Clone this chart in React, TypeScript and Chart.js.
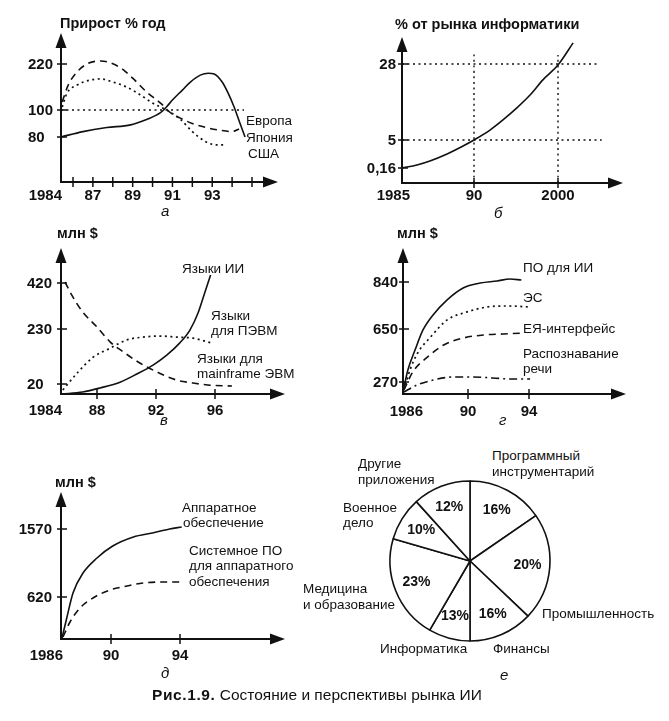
import React, { useEffect, useRef } from 'react';
import { Chart, registerables, LinearScale } from 'chart.js';

const FONT = '"Liberation Sans", Arial, Helvetica, sans-serif';
const INK = '#111';

// ---------- Panel а: Прирост % год ----------
const aEuropeX = [1984.2, 1985.2, 1986.2, 1986.7, 1987.4, 1988.4, 1989, 1989.7, 1990.4, 1990.9, 1991.4, 1992, 1992.7, 1993.4, 1994, 1994.35];
const aEuropeY = [121, 165, 199, 220, 228, 210, 183, 147, 118, 98, 94, 90, 87, 85, 84, 86];
const aJapanX = [1984, 1986.5, 1987.7, 1988.9, 1989.7, 1990.4, 1990.7, 1991, 1991.5, 1991.9, 1992.4, 1992.8, 1993.1, 1993.5, 1993.8, 1994.1, 1994.4, 1994.65];
const aJapanY = [80, 84, 87, 89, 93, 98, 108, 126, 152, 173, 191, 196, 194, 173, 144, 108, 90, 80];
const aUsaX = [1984.2, 1985, 1986.2, 1986.85, 1987.4, 1988, 1988.7, 1989.4, 1990, 1990.7, 1991.4, 1992, 1992.7, 1993.2, 1993.6];
const aUsaY = [108, 144, 165, 178, 181, 173, 160, 139, 118, 100, 93, 84, 71, 66, 66];
const aRefX = [1984, 1994.6];
const aRefY = [100, 100];
const aXTicks = [1984, 1986, 1987, 1988, 1989, 1990, 1991, 1992, 1993, 1994, 1995];
const aXLabels = ['1984', '', '87', '', '89', '', '91', '', '93', '', ''];
const aYTicks = [80, 100, 220];
const aYLabels = ['80', '100', '220'];

// ---------- Panel б: % от рынка информатики ----------
const bShareX = [1985, 1986.04, 1986.94, 1988.13, 1989.24, 1990, 1991.9, 1993.45, 1995.1, 1996.67, 1998.2, 2000, 2001.8];
const bShareY = [0.16, 0.68, 1.37, 2.58, 3.96, 5, 8.0, 11.06, 14.7, 18.6, 23.2, 27.7, 34.4];
const bGrid5X = [1985, 2005.2];
const bGrid5Y = [5, 5];
const bGrid28X = [1985, 2004.6];
const bGrid28Y = [28, 28];
const bGrid90X = [1990, 1990];
const bGrid90Y = [0, 31.3];
const bGrid2000X = [2000, 2000];
const bGrid2000Y = [0, 30.7];
const bXTicks = [1985, 1990, 2000];
const bXLabels = ['1985', '90', '2000'];
const bYTicks = [0.16, 5, 28];
const bYLabels = ['0,16', '5', '28'];

// ---------- Panel в: языки, млн $ ----------
const cAiX = [1984.1, 1986.4, 1988.2, 1989.6, 1990.7, 1991.8, 1992.75, 1993.6, 1994.3, 1994.85, 1995.3, 1995.7];
const cAiY = [0, 4, 12, 28, 58, 92, 131, 176, 226, 296, 379, 453];
const cPcX = [1984.2, 1985.8, 1987.6, 1988.9, 1990, 1991.1, 1992.3, 1993.4, 1994.5, 1995.8];
const cPcY = [8, 62, 123, 157, 188, 199, 203, 199, 195, 176];
const cMainframeX = [1984.44, 1985.2, 1986.4, 1988, 1988.9, 1989.8, 1990.9, 1992.07, 1993.4, 1994.5, 1995.5, 1997.15];
const cMainframeY = [424, 370, 301, 238, 180, 142, 100, 66, 35, 24, 18, 16];
const cXTicks = [1984, 1988, 1992, 1996];
const cXLabels = ['1984', '88', '92', '96'];
const cYTicks = [20, 230, 420];
const cYLabels = ['20', '230', '420'];

// ---------- Panel г: ПО для ИИ, млн $ ----------
const dSoftX = [1986, 1986.3, 1986.74, 1987.23, 1987.85, 1988.7, 1989.7, 1990.8, 1991.9, 1992.75, 1993.5];
const dSoftY = [45, 356, 499, 643, 707, 767, 816, 836, 844, 852, 848];
const dEsX = [1986.06, 1986.43, 1986.9, 1987.7, 1988.7, 1989.94, 1991.25, 1992.56, 1994.07];
const dEsY = [90, 356, 478, 593, 686, 719, 739, 743, 739];
const dNlX = [1986.06, 1986.6, 1987.5, 1988.5, 1989.7, 1991, 1992.3, 1993.6];
const dNlY = [90, 342, 449, 535, 585, 607, 614, 621];
const dSpeechX = [1986.06, 1986.86, 1987.85, 1989.1, 1990.3, 1991.6, 1992.95, 1994.07];
const dSpeechY = [45, 202, 284, 306, 306, 299, 291, 291];
const dXTicks = [1986, 1990, 1994];
const dXLabels = ['1986', '90', '94'];
const dYTicks = [270, 650, 840];
const dYLabels = ['270', '650', '840'];

// ---------- Panel д: аппаратное обеспечение, млн $ ----------
const eHwX = [1986.08, 1986.48, 1986.96, 1987.76, 1988.88, 1990.1, 1991.3, 1992.4, 1993.4, 1994.1];
const eHwY = [15, 325, 676, 955, 1165, 1332, 1458, 1514, 1570, 1598];
const eSysX = [1986.16, 1986.72, 1987.52, 1988.56, 1989.92, 1990.93, 1991.86, 1993.0, 1994.1];
const eSysY = [30, 251, 458, 605, 718, 774, 816, 830, 830];
const eXTicks = [1986, 1990, 1994];
const eXLabels = ['1986', '90', '94'];
const eYTicks = [620, 1570];
const eYLabels = ['620', '1570'];

// ---------- Panel е: pie ----------
const pieCategories = ['Программный инструментарий', 'Промышленность', 'Финансы', 'Информатика', 'Медицина и образование', 'Военное дело', 'Другие приложения'];
const pieShares = [15.4, 21.7, 12.9, 8.4, 21.1, 8.8, 11.7];
const piePctLabels = ['16%', '20%', '16%', '13%', '23%', '10%', '12%'];

// ---------- scale: piecewise-linear (schematic axes) ----------
class KnotScale extends LinearScale {
  static id = 'knot';
  static defaults = {};
  knots(): number[][] {
    return (this.options as any).knots as number[][];
  }
  getPixelForValue(v: number) {
    const k = this.knots();
    let i = 0;
    while (i < k.length - 2 && v > k[i + 1][0]) i++;
    const a = k[i], b = k[i + 1];
    const o = a[1] + ((v - a[0]) * (b[1] - a[1])) / (b[0] - a[0]);
    const ca = (this.chart as any).chartArea || { left: this.left, bottom: this.bottom };
    return this.isHorizontal() ? ca.left + o : ca.bottom - o;
  }
  getValueForPixel(p: number) {
    const k = this.knots();
    const ca = (this.chart as any).chartArea || { left: this.left, bottom: this.bottom };
    const o = this.isHorizontal() ? p - ca.left : ca.bottom - p;
    let i = 0;
    while (i < k.length - 2 && o > k[i + 1][1]) i++;
    const a = k[i], b = k[i + 1];
    return a[0] + ((o - a[1]) * (b[0] - a[0])) / (b[1] - a[1]);
  }
}
Chart.register(...registerables, KnotScale as any);
Chart.defaults.font.family = FONT;

const SOLID: number[] = [];
const DASH = [7, 5];
const DOT = [2, 3.5];
const DASHDOT = [8, 4, 2, 4];

type Series = { name: string; x: number[]; y: number[]; dash: number[]; width: number };
type PanelCfg = {
  box: number[];
  area: number[];
  xKnots: number[][];
  yKnots: number[][];
  xTicks: number[];
  xLabels: string[];
  yTicks: number[];
  yLabels: string[];
  yAlign: 'left' | 'right';
  yLabelX: number;
  originDx: number;
  xLabelDy: number;
  series: Series[];
};

const panels: PanelCfg[] = [
  {
    box: [0, 0, 330, 225], area: [61, 33, 278, 182],
    xKnots: [[1984, 0], [1986, 12], [1995, 191]],
    yKnots: [[0, 0], [80, 45], [100, 72], [220, 118]],
    xTicks: aXTicks, xLabels: aXLabels, yTicks: aYTicks, yLabels: aYLabels,
    yAlign: 'left', yLabelX: 28, originDx: 1, xLabelDy: 18,
    series: [
      { name: 'Европа', x: aEuropeX, y: aEuropeY, dash: DASH, width: 1.6 },
      { name: 'Япония', x: aJapanX, y: aJapanY, dash: SOLID, width: 1.6 },
      { name: 'США', x: aUsaX, y: aUsaY, dash: DOT, width: 1.7 },
      { name: '100', x: aRefX, y: aRefY, dash: DOT, width: 1.5 },
    ],
  },
  {
    box: [330, 0, 339, 225], area: [402, 37, 623, 183],
    xKnots: [[1985, 0], [1990, 72], [2000, 156]],
    yKnots: [[0, 0], [0.16, 15], [5, 43], [28, 119]],
    xTicks: bXTicks, xLabels: bXLabels, yTicks: bYTicks, yLabels: bYLabels,
    yAlign: 'right', yLabelX: 396, originDx: 8, xLabelDy: 17,
    series: [
      { name: 'доля', x: bShareX, y: bShareY, dash: SOLID, width: 1.6 },
      { name: 'g5', x: bGrid5X, y: bGrid5Y, dash: DOT, width: 1.4 },
      { name: 'g28', x: bGrid28X, y: bGrid28Y, dash: DOT, width: 1.4 },
      { name: 'g90', x: bGrid90X, y: bGrid90Y, dash: DOT, width: 1.4 },
      { name: 'g2000', x: bGrid2000X, y: bGrid2000Y, dash: DOT, width: 1.4 },
    ],
  },
  {
    box: [0, 225, 330, 215], area: [61, 248, 285, 394],
    xKnots: [[1984, 0], [1988, 36], [1996, 154]],
    yKnots: [[0, 0], [20, 10], [230, 65], [420, 111]],
    xTicks: cXTicks, xLabels: cXLabels, yTicks: cYTicks, yLabels: cYLabels,
    yAlign: 'left', yLabelX: 27, originDx: 1, xLabelDy: 21,
    series: [
      { name: 'Языки ИИ', x: cAiX, y: cAiY, dash: SOLID, width: 1.6 },
      { name: 'Языки для ПЭВМ', x: cPcX, y: cPcY, dash: DOT, width: 1.7 },
      { name: 'Языки для mainframe ЭВМ', x: cMainframeX, y: cMainframeY, dash: DASH, width: 1.6 },
    ],
  },
  {
    box: [330, 225, 339, 215], area: [403, 248, 626, 394],
    xKnots: [[1986, 0], [1990, 65], [1994, 126]],
    yKnots: [[0, 0], [270, 12], [650, 65], [840, 112]],
    xTicks: dXTicks, xLabels: dXLabels, yTicks: dYTicks, yLabels: dYLabels,
    yAlign: 'right', yLabelX: 398, originDx: 20, xLabelDy: 22,
    series: [
      { name: 'ПО для ИИ', x: dSoftX, y: dSoftY, dash: SOLID, width: 1.6 },
      { name: 'ЭС', x: dEsX, y: dEsY, dash: DOT, width: 1.7 },
      { name: 'ЕЯ-интерфейс', x: dNlX, y: dNlY, dash: DASH, width: 1.6 },
      { name: 'Распознавание речи', x: dSpeechX, y: dSpeechY, dash: DASHDOT, width: 1.6 },
    ],
  },
  {
    box: [0, 445, 330, 235], area: [61, 492, 285, 639],
    xKnots: [[1986, 0], [1990, 50], [1994, 119]],
    yKnots: [[0, 0], [620, 42], [1570, 110]],
    xTicks: eXTicks, xLabels: eXLabels, yTicks: eYTicks, yLabels: eYLabels,
    yAlign: 'right', yLabelX: 52, originDx: 2, xLabelDy: 21,
    series: [
      { name: 'Аппаратное обеспечение', x: eHwX, y: eHwY, dash: SOLID, width: 1.6 },
      { name: 'Системное ПО', x: eSysX, y: eSysY, dash: DASH, width: 1.6 },
    ],
  },
];

function axesPlugin(cfg: PanelCfg) {
  return {
    id: 'schematicAxes',
    afterDraw(chart: any) {
      const ctx: CanvasRenderingContext2D = chart.ctx;
      const ca = chart.chartArea;
      const xs = chart.scales.x, ys = chart.scales.y;
      const L = ca.left, R = ca.right, T = ca.top, B = ca.bottom;
      ctx.save();
      ctx.setLineDash([]);
      ctx.strokeStyle = INK;
      ctx.fillStyle = INK;
      ctx.lineWidth = 2;
      ctx.beginPath();
      ctx.moveTo(L, B + 1);
      ctx.lineTo(L, T + 10);
      ctx.moveTo(L - 1, B);
      ctx.lineTo(R - 10, B);
      ctx.stroke();
      ctx.beginPath();
      ctx.moveTo(L, T);
      ctx.lineTo(L - 5.5, T + 15);
      ctx.lineTo(L + 5.5, T + 15);
      ctx.closePath();
      ctx.fill();
      ctx.beginPath();
      ctx.moveTo(R, B);
      ctx.lineTo(R - 15, B - 5.5);
      ctx.lineTo(R - 15, B + 5.5);
      ctx.closePath();
      ctx.fill();
      ctx.lineWidth = 1.5;
      ctx.font = `bold 15px ${FONT}`;
      ctx.textBaseline = 'alphabetic';
      cfg.yTicks.forEach((v, i) => {
        const py = ys.getPixelForValue(v);
        ctx.beginPath();
        ctx.moveTo(L - 4, py);
        ctx.lineTo(L + 6, py);
        ctx.stroke();
        ctx.textAlign = cfg.yAlign;
        ctx.fillText(cfg.yLabels[i], cfg.yLabelX - cfg.box[0], py + 5.4);
      });
      cfg.xTicks.forEach((v, i) => {
        const px = xs.getPixelForValue(v);
        const origin = Math.abs(px - L) < 0.5;
        if (!origin) {
          ctx.beginPath();
          ctx.moveTo(px, B - 5);
          ctx.lineTo(px, B + 5);
          ctx.stroke();
        }
        const lab = cfg.xLabels[i];
        if (lab) {
          if (origin) {
            ctx.textAlign = 'right';
            ctx.fillText(lab, px + cfg.originDx, B + cfg.xLabelDy);
          } else {
            ctx.textAlign = 'center';
            ctx.fillText(lab, px, B + cfg.xLabelDy);
          }
        }
      });
      ctx.restore();
    },
  };
}

function LinePanel({ cfg }: { cfg: PanelCfg }) {
  const ref = useRef<HTMLCanvasElement>(null);
  useEffect(() => {
    const [bl, bt, bw, bh] = cfg.box;
    const [al, at, ar, ab] = cfg.area;
    const chart = new Chart(ref.current as HTMLCanvasElement, {
      type: 'line',
      data: {
        datasets: cfg.series.map((s) => ({
          label: s.name,
          data: s.x.map((x, i) => ({ x, y: s.y[i] })),
          borderColor: INK,
          borderWidth: s.width,
          borderDash: s.dash,
          borderCapStyle: 'butt',
          pointRadius: 0,
          fill: false,
          clip: false,
          cubicInterpolationMode: 'monotone',
        })),
      },
      options: {
        animation: false,
        responsive: false,
        events: [],
        layout: { padding: { left: al - bl, top: at - bt, right: bl + bw - ar, bottom: bt + bh - ab } },
        scales: {
          x: { type: 'knot', knots: cfg.xKnots, display: false } as any,
          y: { type: 'knot', knots: cfg.yKnots, display: false } as any,
        },
        plugins: { legend: { display: false }, tooltip: { enabled: false } },
      } as any,
      plugins: [axesPlugin(cfg) as any],
    });
    return () => chart.destroy();
  }, [cfg]);
  return (
    <canvas
      ref={ref}
      width={cfg.box[2]}
      height={cfg.box[3]}
      style={{ position: 'absolute', left: cfg.box[0], top: cfg.box[1], width: cfg.box[2], height: cfg.box[3] }}
    />
  );
}

const pctPlugin = {
  id: 'pctLabels',
  afterDatasetsDraw(chart: any) {
    const ctx: CanvasRenderingContext2D = chart.ctx;
    const meta = chart.getDatasetMeta(0);
    ctx.save();
    ctx.fillStyle = INK;
    ctx.font = `bold 14px ${FONT}`;
    ctx.textAlign = 'center';
    ctx.textBaseline = 'middle';
    meta.data.forEach((arc: any, i: number) => {
      const p = arc.getProps(['x', 'y', 'startAngle', 'endAngle', 'outerRadius'], true);
      const mid = (p.startAngle + p.endAngle) / 2;
      const r = p.outerRadius * 0.72;
      ctx.fillText(piePctLabels[i], p.x + Math.cos(mid) * r, p.y + Math.sin(mid) * r);
    });
    ctx.restore();
  },
};

const PIE_BOX = [380, 471, 180, 180];

function PiePanel() {
  const ref = useRef<HTMLCanvasElement>(null);
  useEffect(() => {
    const chart = new Chart(ref.current as HTMLCanvasElement, {
      type: 'pie',
      data: {
        labels: pieCategories,
        datasets: [
          {
            data: pieShares,
            backgroundColor: '#fff',
            borderColor: INK,
            borderWidth: 1.6,
            radius: 80,
          } as any,
        ],
      },
      options: {
        animation: false,
        responsive: false,
        events: [],
        layout: { padding: 0 },
        plugins: { legend: { display: false }, tooltip: { enabled: false } },
      } as any,
      plugins: [pctPlugin as any],
    });
    return () => chart.destroy();
  }, []);
  return (
    <canvas
      ref={ref}
      width={PIE_BOX[2]}
      height={PIE_BOX[3]}
      style={{ position: 'absolute', left: PIE_BOX[0], top: PIE_BOX[1], width: PIE_BOX[2], height: PIE_BOX[3] }}
    />
  );
}

type Note = { t: string; x: number; y: number; s: number; w?: number; i?: boolean };
const notes: Note[] = [
  { t: 'Прирост % год', x: 60, y: 28, s: 14.5, w: 700 },
  { t: '% от рынка информатики', x: 395, y: 29, s: 14.5, w: 700 },
  { t: 'млн $', x: 57, y: 238, s: 14.5, w: 700 },
  { t: 'млн $', x: 397, y: 238, s: 14.5, w: 700 },
  { t: 'млн $', x: 55, y: 487, s: 14.5, w: 700 },
  { t: 'Европа', x: 246, y: 125, s: 13.5 },
  { t: 'Япония', x: 246, y: 142, s: 13.5 },
  { t: 'США', x: 248, y: 158, s: 13.5 },
  { t: 'Языки ИИ', x: 182, y: 273, s: 13.5 },
  { t: 'Языки', x: 211, y: 320, s: 13.5 },
  { t: 'для ПЭВМ', x: 211, y: 335, s: 13.5 },
  { t: 'Языки для', x: 197, y: 363, s: 13.5 },
  { t: 'mainframe ЭВМ', x: 197, y: 378, s: 13.5 },
  { t: 'ПО для ИИ', x: 523, y: 272, s: 13.5 },
  { t: 'ЭС', x: 523, y: 302, s: 13.5 },
  { t: 'ЕЯ-интерфейс', x: 523, y: 333, s: 13.5 },
  { t: 'Распознавание', x: 523, y: 358, s: 13.5 },
  { t: 'речи', x: 523, y: 373, s: 13.5 },
  { t: 'Аппаратное', x: 182, y: 512, s: 13.5 },
  { t: 'обеспечение', x: 183, y: 527, s: 13.5 },
  { t: 'Системное ПО', x: 189, y: 555, s: 13.5 },
  { t: 'для аппаратного', x: 189, y: 570, s: 13.5 },
  { t: 'обеспечения', x: 189, y: 586, s: 13.5 },
  { t: 'Программный', x: 492, y: 460, s: 13.5 },
  { t: 'инструментарий', x: 492, y: 476, s: 13.5 },
  { t: 'Другие', x: 358, y: 468, s: 13.5 },
  { t: 'приложения', x: 358, y: 484, s: 13.5 },
  { t: 'Военное', x: 343, y: 512, s: 13.5 },
  { t: 'дело', x: 343, y: 527, s: 13.5 },
  { t: 'Медицина', x: 303, y: 593, s: 13.5 },
  { t: 'и образование', x: 303, y: 609, s: 13.5 },
  { t: 'Промышленность', x: 542, y: 618, s: 13.5 },
  { t: 'Информатика', x: 380, y: 653, s: 13.5 },
  { t: 'Финансы', x: 493, y: 653, s: 13.5 },
  { t: 'а', x: 161, y: 216, s: 15, i: true },
  { t: 'б', x: 494, y: 218, s: 15, i: true },
  { t: 'в', x: 160, y: 425, s: 15, i: true },
  { t: 'г', x: 499, y: 425, s: 15, i: true },
  { t: 'д', x: 161, y: 678, s: 15, i: true },
  { t: 'е', x: 500, y: 680, s: 15, i: true },
];

export default function App() {
  return (
    <div style={{ position: 'absolute', left: 0, top: 0, width: 669, height: 721, background: '#fff', fontFamily: FONT, color: INK, overflow: 'hidden' }}>
      {panels.map((p, i) => (
        <LinePanel key={i} cfg={p} />
      ))}
      <PiePanel />
      {notes.map((n, i) => (
        <div
          key={i}
          style={{
            position: 'absolute',
            left: n.x,
            top: n.y - 0.8465 * n.s,
            fontSize: n.s,
            lineHeight: 1,
            fontWeight: n.w || 400,
            fontStyle: n.i ? 'italic' : 'normal',
            whiteSpace: 'nowrap',
          }}
        >
          {n.t}
        </div>
      ))}
      <div style={{ position: 'absolute', left: 152, top: 700 - 0.8465 * 15.5, fontSize: 15.5, lineHeight: 1, whiteSpace: 'nowrap' }}>
        <span style={{ fontWeight: 700, letterSpacing: 0.6 }}>Рис.1.9.</span> Состояние и перспективы рынка ИИ
      </div>
    </div>
  );
}
